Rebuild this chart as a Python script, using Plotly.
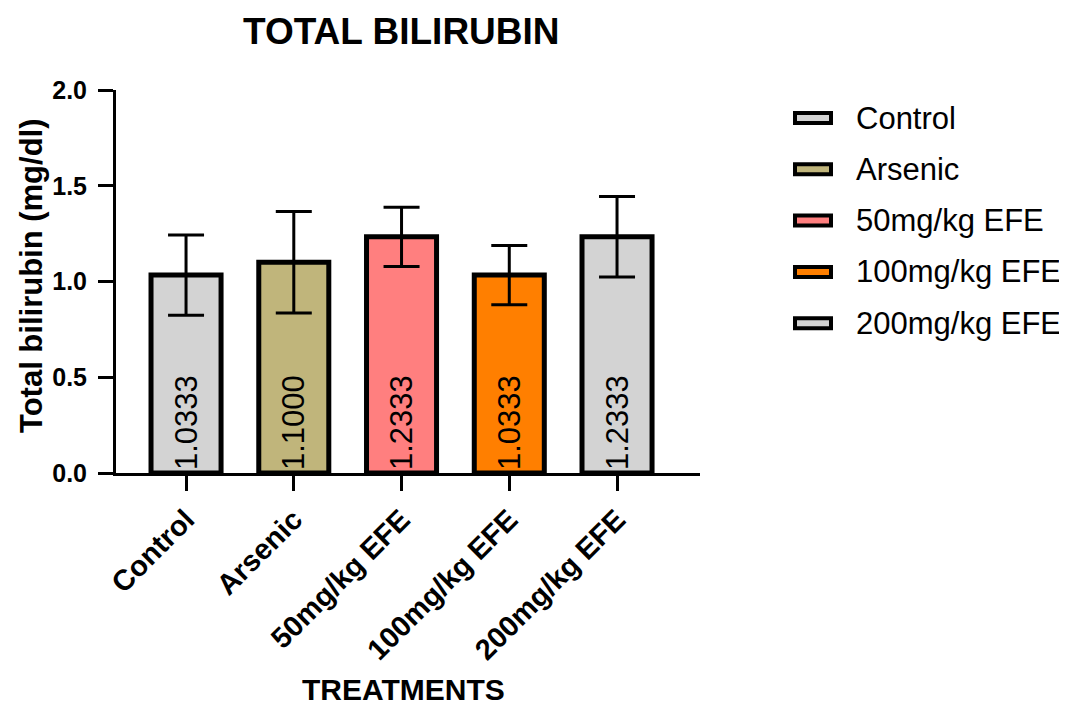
import plotly.graph_objects as go

categories = ["Control", "Arsenic", "50mg/kg EFE", "100mg/kg EFE", "200mg/kg EFE"]
means = [1.0333, 1.1000, 1.2333, 1.0333, 1.2333]
sds = [0.21, 0.265, 0.155, 0.155, 0.21]
labels = ["1.0333", "1.1000", "1.2333", "1.0333", "1.2333"]
colors = ["#D3D3D3", "#C0B57B", "#FF7F7F", "#FF7F00", "#D3D3D3"]
yticks = [0, 0.5, 1.0, 1.5, 2.0]
yticklabels = ["0.0", "0.5", "1.0", "1.5", "2.0"]

FONT = "Arial, Liberation Sans, sans-serif"

# page body has an 8px margin; plot area placed at reference pixels
OFF = 8
W, H = 1067 - OFF, 709 - OFF
PL, PT, PW, PH = 116, 90, 584, 383  # plot area in reference pixels


def px(X):
    return (X - PL) / PW


def py(Y):
    return (PT + PH - Y) / PH


fig = go.Figure()
for i, cat in enumerate(categories):
    fig.add_trace(go.Bar(
        x=[cat], y=[means[i]], name=cat,
        marker=dict(color=colors[i], line=dict(color="black", width=5)),
        width=0.65,
        error_y=dict(type="data", array=[sds[i]], color="black", thickness=3, width=18),
        text=[labels[i]], textposition="inside", insidetextanchor="start",
        textangle=-90, textfont=dict(size=31, color="black", family=FONT),
        showlegend=False,
    ))

fig.update_layout(
    width=W, height=H,
    barmode="overlay",
    plot_bgcolor="white", paper_bgcolor="white",
    margin=dict(l=PL - OFF, r=W - (PL - OFF) - PW, t=PT - OFF, b=H - (PT - OFF) - PH),
    font=dict(family=FONT, color="black"),
    showlegend=False,
    uniformtext=dict(mode=False),
)
fig.update_xaxes(
    range=[-0.65, 4.77], showline=True, linecolor="black", linewidth=3,
    ticks="outside", ticklen=15, tickwidth=3, tickcolor="black",
    tickangle=-45, tickfont=dict(size=29, family=FONT),
    tickvals=categories, ticktext=["<b>%s</b>" % c for c in categories],
    showgrid=False, zeroline=False,
)
fig.update_yaxes(
    range=[0, 2.0], tickvals=yticks,
    ticktext=["<b>%s</b>" % t for t in yticklabels],
    showline=True, linecolor="black", linewidth=3,
    ticks="outside", ticklen=15, tickwidth=3, tickcolor="black",
    tickfont=dict(size=25, family=FONT), ticklabelstandoff=6,
    showgrid=False, zeroline=False,
)

# titles (kept inside the figure edges)
fig.add_annotation(text="<b>TOTAL BILIRUBIN</b>", x=px(401), y=py(OFF + 1), yref="paper",
                   xref="paper", showarrow=False, xanchor="center", yanchor="top",
                   font=dict(size=37, family=FONT))
fig.add_annotation(text="<b>TREATMENTS</b>", x=px(403), y=py(709 - 1), yref="paper",
                   xref="paper", showarrow=False, xanchor="center", yanchor="bottom",
                   font=dict(size=30, family=FONT))
fig.add_annotation(text="<b>Total bilirubin (mg/dl)</b>", textangle=-90,
                   x=px(31), y=py(276), xref="paper", yref="paper", showarrow=False,
                   xanchor="center", yanchor="middle", font=dict(size=31, family=FONT))

# legend (swatch + label per category)
for i, cat in enumerate(categories):
    yc = 118 + i * 51.3
    fig.add_shape(type="rect", xref="paper", yref="paper",
                  x0=px(795), x1=px(831), y0=py(yc - 5), y1=py(yc + 5),
                  fillcolor=colors[i], line=dict(color="black", width=4))
    fig.add_annotation(text=cat, x=px(854), y=py(yc), xref="paper", yref="paper",
                       showarrow=False, xanchor="left", yanchor="middle",
                       font=dict(size=31, family=FONT))

fig.write_html("out.html")
